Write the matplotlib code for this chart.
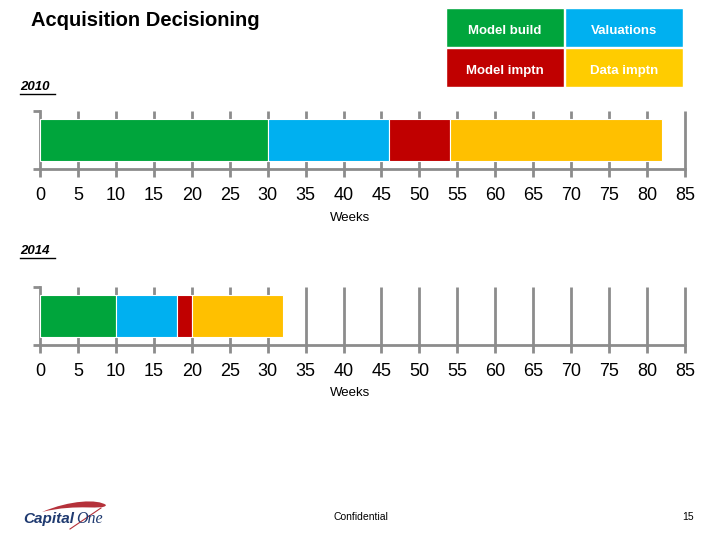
import matplotlib
matplotlib.use("Agg")
import matplotlib.pyplot as plt
from matplotlib.patches import Rectangle, PathPatch
from matplotlib.path import Path
from matplotlib.lines import Line2D

plt.rcParams['font.family'] = ['Liberation Sans', 'DejaVu Sans']

# ---- data ----
phases = ["Model build", "Valuations", "Model imptn", "Data imptn"]
colors = ["#00A53C", "#00B0F0", "#C00000", "#FFC000"]
legend_colors = ["#00A53C", "#00B0F0", "#C00000", "#FFCC00"]
years = ["2010", "2014"]
durations_2010 = [30, 16, 8, 28]
durations_2014 = [10, 8, 2, 12]
xticks = list(range(0, 90, 5))
xlabel = "Weeks"

W, H = 720, 540
fig = plt.figure(figsize=(7.2, 5.4), dpi=100)

def fx(px):
    return px / W

def fy(py):
    return 1 - py / H

fig.text(fx(31), fy(21), "Acquisition Decisioning", fontsize=14.5, fontweight='bold',
         ha='left', va='center', color='black')

# legend boxes
boxes = [(446, 8), (565, 8), (446, 48), (565, 48)]
for (bx, by), name, c in zip(boxes, phases, legend_colors):
    fig.patches.append(Rectangle((fx(bx), fy(by + 39)), fx(118), 39 / H, transform=fig.transFigure,
                                 facecolor=c, edgecolor='white', linewidth=1))
    fig.text(fx(bx + 59), fy(by + 23), name, fontsize=9.5, fontweight='bold', color='white',
             ha='center', va='center')

gray = '#8C8C8C'

def draw_year(label, durations, ytop_px, label_y_px, weeks_y_px):
    fig.text(fx(20), fy(label_y_px), label, fontsize=9.5, fontweight='bold', style='italic',
             ha='left', va='center')
    fig.lines.append(Line2D([fx(20), fx(55)], [fy(label_y_px + 7), fy(label_y_px + 7)],
                            transform=fig.transFigure, color='black', linewidth=1))
    ax = fig.add_axes([fx(40), fy(ytop_px + 58), fx(645), 58 / H])
    ax.vlines(xticks[1:], -0.5, 0.5, colors=gray, linewidth=2, zorder=0, clip_on=False)
    left = 0
    for d, c in zip(durations, colors):
        ax.barh(0, d, left=left, height=0.72, color=c, edgecolor='white', linewidth=0.8, zorder=3)
        left += d
    ax.set_xlim(0, 85)
    ax.set_ylim(-0.5, 0.5)
    ax.set_xticks(xticks)
    ax.set_xticklabels([str(v) for v in xticks], fontsize=13)
    ax.tick_params(axis='x', direction='out', length=6, width=2, color=gray, pad=7)
    ax.set_yticks([-0.5, 0.5])
    ax.set_yticklabels([])
    ax.tick_params(axis='y', direction='out', length=5, width=2, color=gray)
    for s in ['top', 'right']:
        ax.spines[s].set_visible(False)
    for s in ['left', 'bottom']:
        ax.spines[s].set_color(gray)
        ax.spines[s].set_linewidth(2)
    fig.text(fx(350), fy(weeks_y_px), xlabel, fontsize=9.5, ha='center', va='center')
    return ax

draw_year(years[0], durations_2010, 111, 87, 218)
draw_year(years[1], durations_2014, 287, 251, 393)

# footer
fig.text(fx(334), fy(517), "Confidential", fontsize=7.5, ha='left', va='center')
fig.text(fx(694), fy(517), "15", fontsize=7.5, ha='right', va='center')

# Capital One logo approximation
verts = [(fx(42), fy(512)), (fx(70), fy(500)), (fx(98), fy(499)), (fx(106), fy(505)),
         (fx(104), fy(511)), (fx(78), fy(503)), (fx(42), fy(512))]
codes = [Path.MOVETO, Path.CURVE4, Path.CURVE4, Path.CURVE4, Path.CURVE4, Path.CURVE4, Path.CURVE4]
fig.patches.append(PathPatch(Path(verts, codes), transform=fig.transFigure,
                             facecolor='#B5313A', edgecolor='none'))
fig.lines.append(Line2D([fx(101), fx(70)], [fy(508), fy(529)], transform=fig.transFigure,
                        color='#B5313A', linewidth=0.8))
fig.text(fx(23), fy(519), "Capital", fontsize=11, fontweight='bold', style='italic',
         color='#1F3A70', ha='left', va='center')
fig.text(fx(76), fy(519), "One", fontsize=11.5, style='italic', family='Liberation Serif',
         color='#1F3A70', ha='left', va='center')

fig.savefig("out.png", dpi=100)
